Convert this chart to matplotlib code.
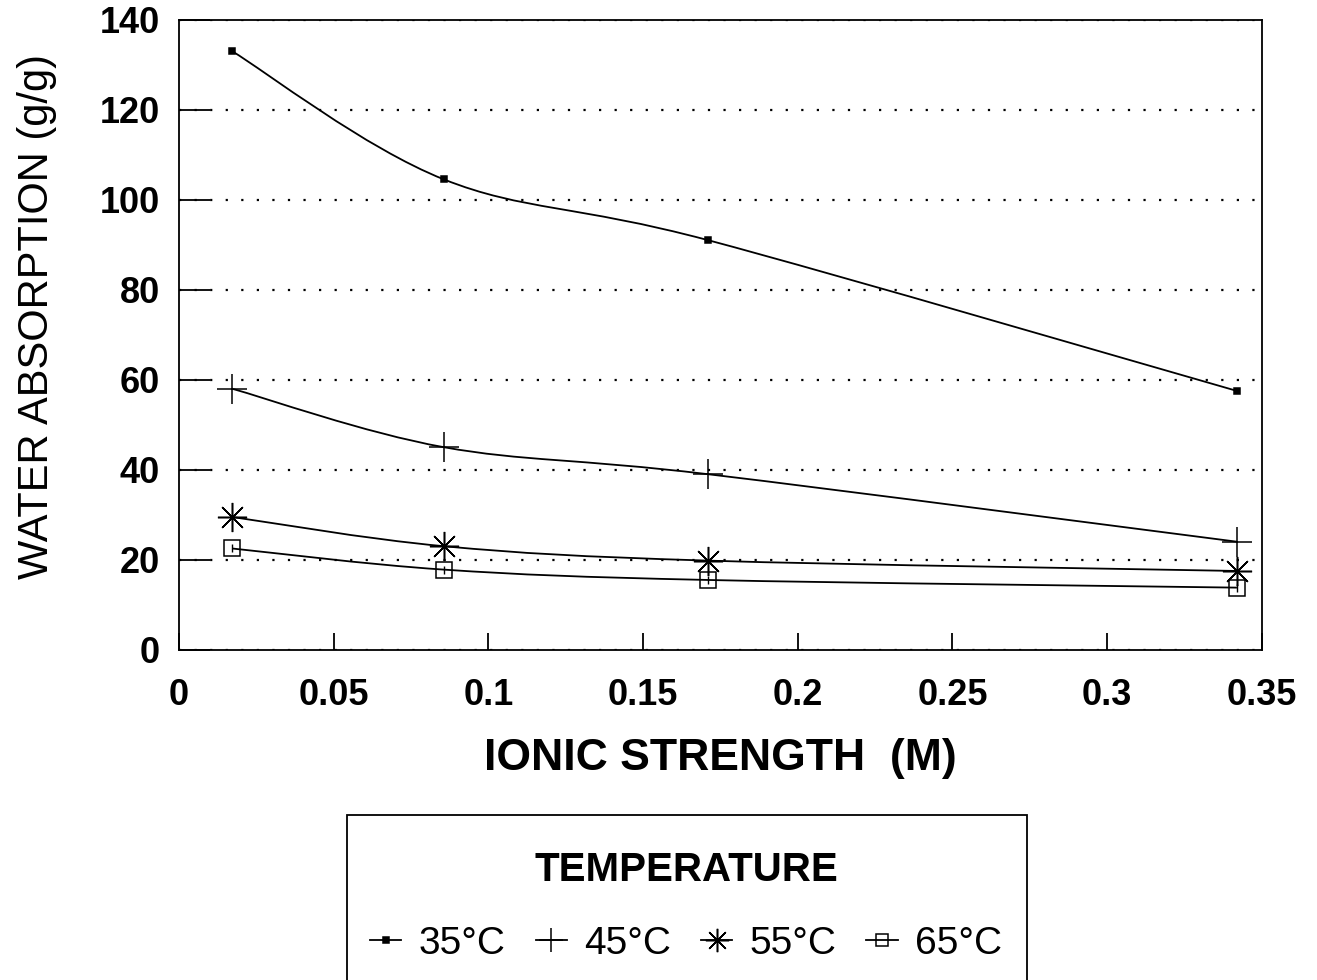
import matplotlib
matplotlib.use('Agg')
import matplotlib.pyplot as plt
from matplotlib.path import Path
from matplotlib.patches import PathPatch, Rectangle
from matplotlib.lines import Line2D
import numpy as np

plt.rcParams['font.family'] = ['Liberation Sans', 'DejaVu Sans']

# ionic strength (M)
ionic = [0.0171, 0.0856, 0.171, 0.342]

# water absorption (g/g) per temperature
t35 = [133.0, 104.5, 91.0, 57.5]
t45 = [58.0, 45.0, 39.0, 24.0]
t55 = [29.5, 23.0, 19.8, 17.5]
t65 = [22.5, 17.8, 15.5, 13.8]

labels = ['35°C', '45°C', '55°C', '65°C']
series = [t35, t45, t55, t65]
markers = ['s', '+', (8, 2, 0), 's']
msizes = [5, 22, 21, 11]
mfaces = ['black', 'none', 'none', 'none']

x_ticks = [0, 0.05, 0.1, 0.15, 0.2, 0.25, 0.3, 0.35]
x_ticklabels = ['0', '0.05', '0.1', '0.15', '0.2', '0.25', '0.3', '0.35']
y_ticks = [0, 20, 40, 60, 80, 100, 120, 140]


def smooth_path(xs, ys):
    # Catmull-Rom -> cubic bezier through the data points
    pts = np.column_stack([xs, ys])
    n = len(pts)
    verts = [pts[0]]
    codes = [Path.MOVETO]
    for i in range(n - 1):
        p0 = pts[max(i - 1, 0)]
        p1 = pts[i]
        p2 = pts[i + 1]
        p3 = pts[min(i + 2, n - 1)]
        c1 = p1 + (p2 - p0) / 6.0
        c2 = p2 - (p3 - p1) / 6.0
        verts += [c1, c2, p2]
        codes += [Path.CURVE4] * 3
    return Path(verts, codes)


fig = plt.figure(figsize=(13.17, 9.8), dpi=100)
ax = fig.add_axes([0.136, 0.337, 0.822, 0.643])

handles = []
for vals, lab, mk, ms, mf in zip(series, labels, markers, msizes, mfaces):
    ax.add_patch(PathPatch(smooth_path(ionic, vals), facecolor='none',
                           edgecolor='black', lw=1.3, zorder=3))
    ax.plot(ionic, vals, linestyle='none', marker=mk, markersize=ms,
            markerfacecolor=mf, markeredgecolor='black', markeredgewidth=1.1,
            zorder=4)
    handles.append(Line2D([], [], color='black', lw=1.3, marker=mk,
                          markersize=ms * 0.8, markerfacecolor=mf,
                          markeredgecolor='black', markeredgewidth=1.1))

# inner bars of the 65°C square symbol
ax.plot(ionic, t65, linestyle='none', marker='|', markersize=6,
        markeredgecolor='black', markeredgewidth=1.0, zorder=5)

ax.set_xlim(0, 0.35)
ax.set_ylim(0, 140)
ax.set_xticks(x_ticks)
ax.set_xticklabels(x_ticklabels)
ax.set_yticks(y_ticks)

ax.grid(axis='y', linestyle=(0, (1, 6)), color='black', lw=1.6)
ax.set_axisbelow(True)

ax.tick_params(axis='y', direction='in', length=22, width=1.3, pad=14,
               labelsize=26)
ax.tick_params(axis='x', direction='in', length=12, width=1.3, pad=20,
               labelsize=26)
for lab in ax.get_xticklabels() + ax.get_yticklabels():
    lab.set_fontweight('bold')
for sp in ax.spines.values():
    sp.set_linewidth(1.3)

ax.set_xlabel('IONIC STRENGTH  (M)', fontsize=32, fontweight='bold',
              labelpad=18)
ax.set_ylabel('WATER ABSORPTION (g/g)', fontsize=30)
ax.yaxis.set_label_coords(-0.1125, 0.529)

# legend box (runs past the bottom edge like the scanned page)
fig.patches.append(Rectangle((347 / 1317, -0.05), (1027 - 347) / 1317,
                             (980 - 815) / 980 + 0.05,
                             transform=fig.transFigure, fill=False,
                             edgecolor='black', lw=1.3))
leg = fig.legend(handles, labels, ncol=4, loc='center',
                 bbox_to_anchor=(0.521, 0.075), frameon=False,
                 fontsize=28, title='TEMPERATURE',
                 title_fontproperties={'weight': 'bold', 'size': 29},
                 handlelength=0.8, handletextpad=0.45, columnspacing=0.77,
                 labelspacing=0.8)
leg._legend_box.sep = 26

fig.savefig('out.png', dpi=100, facecolor='white')
